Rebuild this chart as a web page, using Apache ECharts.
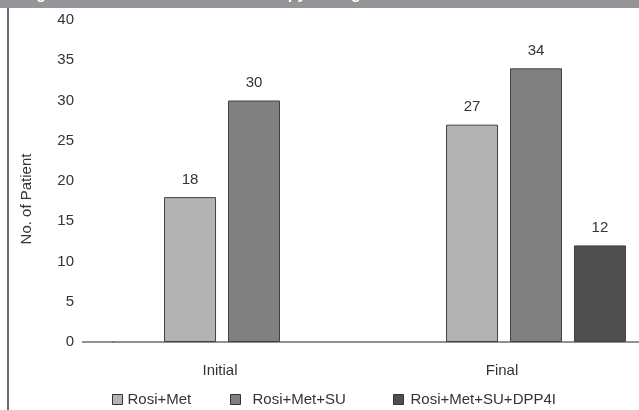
<!DOCTYPE html>
<html>
<head>
<meta charset="utf-8">
<script src="https://cdn.jsdelivr.net/npm/echarts@6/dist/echarts.min.js"></script>
<style>
  html, body { margin: 0; padding: 0; background: #fff; }
  #chart { width: 639px; height: 410px; }
</style>
</head>
<body>
<div id="chart"></div>
<script>
// Stages of the study (x categories)
const stages = ['Initial', 'Final'];
// Therapy regimens (one bar series each)
const regimens = ['Rosi+Met', 'Rosi+Met+SU', 'Rosi+Met+SU+DPP4I'];
// Number of patients per regimen at each stage
const rosiMet = [18, 27];
const rosiMetSu = [30, 34];
const rosiMetSuDpp4i = [null, 12];
// Y-axis range and step
const yMin = 0, yMax = 40, yStep = 5;

const seriesValues = [rosiMet, rosiMetSu, rosiMetSuDpp4i];
const fills = ['#b3b3b3', '#808080', '#4f4f4f'];
const font = '"Liberation Sans", Arial, sans-serif';

const chart = echarts.init(document.getElementById('chart'), null, { renderer: 'canvas' });

const legendPos = [
  { left: 112, pad: 0 },
  { left: 230, pad: 7 },
  { left: 393, pad: 2 }
];

chart.setOption({
  animation: false,
  backgroundColor: '#ffffff',
  // plot area runs past the right edge of the canvas
  grid: { left: 113, right: -38, top: 20, bottom: 68, outerBoundsMode: 'none', containLabel: false },
  xAxis: {
    type: 'category',
    data: stages,
    axisLine: { show: true, lineStyle: { color: '#6e6e6e', width: 1.5 } },
    axisTick: { show: false },
    axisLabel: {
      color: '#333', fontSize: 15, fontFamily: font, margin: 21,
      padding: [0, 68, 0, 0]
    }
  },
  yAxis: {
    type: 'value',
    min: yMin, max: yMax, interval: yStep,
    name: 'No. of Patient',
    nameLocation: 'middle',
    nameGap: 79,
    nameTextStyle: { color: '#333', fontSize: 15, fontFamily: font, padding: [0, 0, 0, -36] },
    axisLine: { show: false },
    axisTick: { show: false },
    splitLine: { show: false },
    axisLabel: { color: '#333', fontSize: 15, fontFamily: font, margin: 39 }
  },
  legend: regimens.map((name, i) => ({
    data: [name],
    left: legendPos[i].left,
    top: 392,
    itemWidth: 10, itemHeight: 10,
    itemGap: 0,
    icon: 'rect',
    padding: 0,
    selectedMode: false,
    itemStyle: { borderColor: '#333', borderWidth: 1 },
    textStyle: { color: '#333', fontSize: 15, fontFamily: font, padding: [0, 0, 0, legendPos[i].pad] }
  })),
  series: regimens.map((name, i) => ({
    name: name,
    type: 'bar',
    data: seriesValues[i],
    barWidth: 52,
    barGap: '23%',
    itemStyle: { color: fills[i], borderColor: '#404040', borderWidth: 1 },
    label: {
      show: true, position: 'top', distance: 10,
      color: '#333', fontSize: 15, fontFamily: font
    }
  })),
  graphic: [
    // grey header band across the top
    { type: 'rect', left: 0, top: 0, shape: { width: 639, height: 8 }, style: { fill: '#939598' }, z: 10 },
    {
      type: 'text', x: 22, y: 3, z: 11,
      style: {
        text: 'Fig. 2: Number of Patients on therapy during treatment',
        fill: '#ffffff', font: 'bold 16px "Liberation Sans", Arial, sans-serif',
        verticalAlign: 'bottom'
      }
    },
    // left frame line
    { type: 'line', shape: { x1: 8, y1: 8, x2: 8, y2: 410 }, style: { stroke: '#3a3a3a', lineWidth: 1.5 }, z: 10 },
    // baseline continuation toward the value labels
    { type: 'line', shape: { x1: 82, y1: 342, x2: 114, y2: 342 }, style: { stroke: '#6e6e6e', lineWidth: 1.5 }, z: 10 }
  ]
});
</script>
</body>
</html>
